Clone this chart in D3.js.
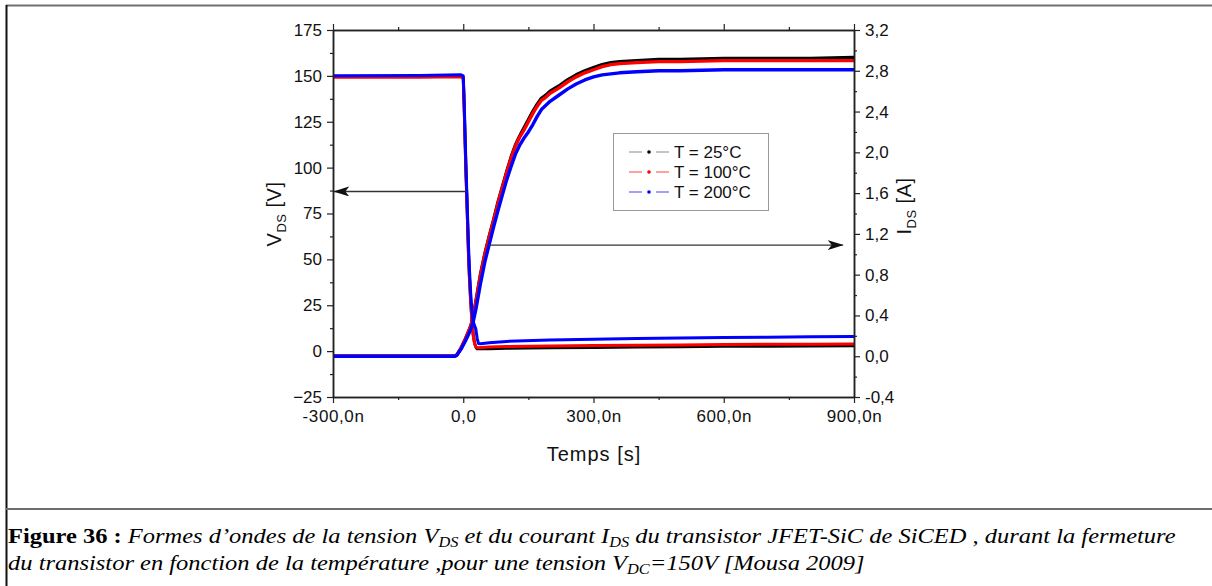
<!DOCTYPE html>
<html><head><meta charset="utf-8">
<script src="https://cdn.jsdelivr.net/npm/d3@7"></script>
<style>
html,body{margin:0;padding:0;background:#fff;}
svg{display:block;}
</style></head>
<body>
<svg id="c" width="1212" height="586"></svg>
<script>
// ---------- data ----------
const seriesNames = ["T = 25°C", "T = 100°C", "T = 200°C"];
const seriesColors = ["#000000", "#ff0000", "#0000ff"];
const legendLineColors = ["#b0b0b0", "#ff8080", "#8080ff"];

// V_DS (ns, V)
const vds25 = [[-300,149.6],[-100,149.6],[-5,149.8],[0,149],[2,135],[4,117],[6,100],[8,85],[10,70],[12,54],[14,42],[17,28],[20,17],[23,9],[26,4.5],[29,2.2],[32,1.3],[60,1.3],[100,1.5],[200,1.8],[300,2.0],[400,2.2],[500,2.4],[600,2.6],[700,2.7],[800,2.8],[900,2.9]];
const vds100 = [[-300,149.2],[-100,149.3],[-5,149.5],[0,148.5],[2,134],[4,116],[6,99],[8,84],[10,69],[12,53],[14,41],[17,27],[20,16],[23,8.5],[26,4.2],[29,2.4],[32,1.9],[60,2.2],[100,2.5],[200,2.8],[300,3.0],[400,3.2],[500,3.4],[600,3.6],[700,3.7],[800,3.8],[900,3.9]];
const vds200 = [[-300,150.1],[-100,150.2],[-5,150.6],[0,150],[2,137],[4,120],[6,103],[8,88],[10,73],[12,58],[14,46],[17,32],[20,22],[23,16],[26,14],[29,12],[32,7],[35,4.2],[40,4.0],[60,4.6],[100,5.3],[200,6.0],[300,6.5],[400,6.9],[500,7.2],[600,7.4],[700,7.6],[800,7.8],[900,8.0]];

// I_DS (ns, A)
const ids25 = [[-300,0],[-20,0],[-15,0.01],[-5,0.08],[5,0.17],[15,0.27],[22,0.36],[30,0.56],[40,0.81],[50,1.01],[60,1.18],[70,1.34],[80,1.51],[90,1.66],[100,1.81],[110,1.95],[120,2.07],[130,2.16],[140,2.24],[150,2.32],[160,2.4],[170,2.47],[180,2.53],[190,2.56],[200,2.6],[220,2.65],[240,2.71],[260,2.76],[280,2.8],[300,2.83],[320,2.86],[340,2.88],[360,2.89],[400,2.9],[450,2.91],[500,2.91],[600,2.92],[700,2.92],[800,2.92],[900,2.93]];
const ids100 = [[-300,0],[-20,0],[-15,0.01],[-5,0.08],[5,0.17],[15,0.27],[22,0.36],[30,0.55],[40,0.8],[50,1.0],[60,1.17],[70,1.33],[80,1.5],[90,1.65],[100,1.8],[110,1.94],[120,2.06],[130,2.15],[140,2.22],[150,2.3],[160,2.38],[170,2.45],[180,2.51],[190,2.54],[200,2.58],[220,2.63],[240,2.69],[260,2.74],[280,2.78],[300,2.81],[320,2.84],[340,2.86],[360,2.87],[400,2.88],[450,2.89],[500,2.89],[600,2.9],[700,2.9],[800,2.9],[900,2.9]];
const ids200 = [[-300,0],[-20,0],[-15,0.01],[-5,0.07],[5,0.15],[15,0.24],[22,0.32],[30,0.48],[40,0.72],[50,0.93],[60,1.1],[70,1.27],[80,1.43],[90,1.58],[100,1.73],[110,1.86],[120,1.98],[130,2.07],[140,2.14],[150,2.2],[160,2.27],[170,2.35],[180,2.42],[200,2.5],[220,2.56],[240,2.62],[260,2.67],[280,2.71],[300,2.74],[320,2.76],[340,2.77],[360,2.78],[400,2.79],[450,2.8],[500,2.8],[600,2.81],[700,2.81],[800,2.81],[900,2.81]];

const timeTicks = [-300, 0, 300, 600, 900];
const timeTickLabels = ["-300,0n", "0,0", "300,0n", "600,0n", "900,0n"];
const timeMinor = [-150, 150, 450, 750];
const vTicks = [-25, 0, 25, 50, 75, 100, 125, 150, 175];
const vMinor = [-12.5, 12.5, 37.5, 62.5, 87.5, 112.5, 137.5, 162.5];
const iTicks = [-0.4, 0.0, 0.4, 0.8, 1.2, 1.6, 2.0, 2.4, 2.8, 3.2];
const iTickLabels = ["-0,4", "0,0", "0,4", "0,8", "1,2", "1,6", "2,0", "2,4", "2,8", "3,2"];
const iMinor = [-0.2, 0.2, 0.6, 1.0, 1.4, 1.8, 2.2, 2.6, 3.0];

// annotation arrows: [value, tStart, tEnd]
const vArrow = [87, 8, -297];
const iArrow = [1.09, 59, 874];

// ---------- drawing ----------
const svg = d3.select("#c");
const SANS = "'Liberation Sans', Arial, sans-serif";
const SERIF = "'Liberation Serif', 'Times New Roman', serif";

// page frame
svg.append("line").attr("x1", 6).attr("x2", 1212).attr("y1", 5.5).attr("y2", 5.5).attr("stroke", "#6e6e6e").attr("stroke-width", 2);
svg.append("line").attr("x1", 6.5).attr("x2", 6.5).attr("y1", 5).attr("y2", 586).attr("stroke", "#111").attr("stroke-width", 2);
svg.append("line").attr("x1", 6).attr("x2", 1212).attr("y1", 509).attr("y2", 509).attr("stroke", "#6e6e6e").attr("stroke-width", 2);

const L = 333, R = 854, T = 30, B = 397;
const x = d3.scaleLinear().domain([-300, 900]).range([L, R]);
const yV = d3.scaleLinear().domain([-25, 175]).range([B, T]);
const yI = d3.scaleLinear().domain([-0.4, 3.2]).range([B, T]);

const plot = svg.append("g");
plot.append("clipPath").attr("id", "clip").append("rect").attr("x", L).attr("y", T).attr("width", R - L).attr("height", B - T);

const lineV = d3.line().x(d => x(d[0])).y(d => yV(d[1]));
const lineI = d3.line().x(d => x(d[0])).y(d => yI(d[1]));
const vSeries = [vds25, vds100, vds200];
const iSeries = [ids25, ids100, ids200];
const curves = plot.append("g").attr("clip-path", "url(#clip)");
for (let k = 0; k < 3; k++) {
  curves.append("path").attr("d", lineV(vSeries[k])).attr("fill", "none").attr("stroke", seriesColors[k]).attr("stroke-width", 3).attr("stroke-linejoin", "round");
  curves.append("path").attr("d", lineI(iSeries[k])).attr("fill", "none").attr("stroke", seriesColors[k]).attr("stroke-width", 3.4).attr("stroke-linejoin", "round");
}

// axes
function styleAxis(g) {
  g.selectAll("path.domain").attr("stroke", "#222").attr("stroke-width", 1.5);
  g.selectAll(".tick line").attr("stroke", "#222").attr("stroke-width", 1.2);
  g.selectAll("text").attr("font-family", SANS).attr("font-size", 17).attr("fill", "#111");
}
const ax = svg.append("g");
ax.append("g").attr("transform", `translate(0,${B})`)
  .call(d3.axisBottom(x).tickValues(timeTicks).tickFormat((d, i) => timeTickLabels[i]).tickSize(6).tickSizeOuter(0).tickPadding(7)).call(styleAxis)
  .call(g => g.selectAll("text").attr("letter-spacing", 0.6));
ax.append("g").attr("transform", `translate(0,${B})`)
  .call(d3.axisBottom(x).tickValues(timeMinor).tickFormat("").tickSize(3).tickSizeOuter(0)).call(styleAxis);
ax.append("g").attr("transform", `translate(0,${T})`)
  .call(d3.axisTop(x).tickValues(timeTicks).tickFormat("").tickSize(6).tickSizeOuter(0)).call(styleAxis);
ax.append("g").attr("transform", `translate(0,${T})`)
  .call(d3.axisTop(x).tickValues(timeMinor).tickFormat("").tickSize(3).tickSizeOuter(0)).call(styleAxis);
ax.append("g").attr("transform", `translate(${L},0)`)
  .call(d3.axisLeft(yV).tickValues(vTicks).tickFormat(d3.format("d")).tickSize(6).tickSizeOuter(0).tickPadding(5)).call(styleAxis);
ax.append("g").attr("transform", `translate(${L},0)`)
  .call(d3.axisLeft(yV).tickValues(vMinor).tickFormat("").tickSize(3).tickSizeOuter(0)).call(styleAxis);
ax.append("g").attr("transform", `translate(${R},0)`)
  .call(d3.axisRight(yI).tickValues(iTicks).tickFormat((d, i) => iTickLabels[i]).tickSize(6).tickSizeOuter(0).tickPadding(5)).call(styleAxis);
ax.append("g").attr("transform", `translate(${R},0)`)
  .call(d3.axisRight(yI).tickValues(iMinor).tickFormat("").tickSize(3).tickSizeOuter(0)).call(styleAxis);

// axis titles
const tV = svg.append("text").attr("transform", "translate(281,214) rotate(-90)").attr("text-anchor", "middle")
  .attr("font-family", SANS).attr("font-size", 20).attr("letter-spacing", 0.5).attr("fill", "#111");
tV.append("tspan").text("V");
tV.append("tspan").attr("font-size", 13).attr("dy", 5).text("DS");
tV.append("tspan").attr("dy", -5).text(" [V]");

const tI = svg.append("text").attr("transform", "translate(911,206) rotate(-90)").attr("text-anchor", "middle")
  .attr("font-family", SANS).attr("font-size", 20).attr("letter-spacing", 0.5).attr("fill", "#111");
tI.append("tspan").text("I");
tI.append("tspan").attr("font-size", 13).attr("dy", 5).text("DS");
tI.append("tspan").attr("dy", -5).text(" [A]");

svg.append("text").attr("x", 594).attr("y", 461).attr("text-anchor", "middle")
  .attr("font-family", SANS).attr("font-size", 20).attr("letter-spacing", 1).attr("fill", "#111").text("Temps [s]");

// arrows
const defs = svg.append("defs");
defs.append("marker").attr("id", "arr").attr("viewBox", "0 0 16 10").attr("refX", 15).attr("refY", 5)
  .attr("markerWidth", 16).attr("markerHeight", 10).attr("markerUnits", "userSpaceOnUse").attr("orient", "auto")
  .append("path").attr("d", "M0,0 L16,5 L0,10 L4,5 Z").attr("fill", "#111");
svg.append("line").attr("x1", x(vArrow[1])).attr("x2", x(vArrow[2])).attr("y1", yV(vArrow[0])).attr("y2", yV(vArrow[0]))
  .attr("stroke", "#333").attr("stroke-width", 1.3).attr("marker-end", "url(#arr)");
svg.append("line").attr("x1", x(iArrow[1])).attr("x2", x(iArrow[2])).attr("y1", yI(iArrow[0])).attr("y2", yI(iArrow[0]))
  .attr("stroke", "#333").attr("stroke-width", 1.3).attr("marker-end", "url(#arr)");

// legend
const lg = svg.append("g");
lg.append("rect").attr("x", 613.5).attr("y", 133.5).attr("width", 155).attr("height", 77).attr("fill", "#fff").attr("stroke", "#999").attr("stroke-width", 1);
seriesNames.forEach((name, k) => {
  const cy = 152 + k * 20;
  lg.append("line").attr("x1", 629).attr("x2", 642).attr("y1", cy).attr("y2", cy).attr("stroke", legendLineColors[k]).attr("stroke-width", 1.5);
  lg.append("line").attr("x1", 656).attr("x2", 669).attr("y1", cy).attr("y2", cy).attr("stroke", legendLineColors[k]).attr("stroke-width", 1.5);
  lg.append("circle").attr("cx", 649).attr("cy", cy).attr("r", 1.8).attr("fill", seriesColors[k]);
  lg.append("text").attr("x", 674).attr("y", cy + 6).attr("font-family", SANS).attr("font-size", 17).attr("fill", "#111").text(name);
});

// caption
function caption(y, parts, targetWidth) {
  const t = svg.append("text").attr("x", 0).attr("y", 0).attr("font-family", SERIF).attr("font-size", 21).attr("fill", "#000");
  parts.forEach(p => {
    const s = t.append("tspan").text(p.t);
    if (p.b) s.attr("font-weight", "bold").attr("font-style", "normal");
    else s.attr("font-style", "italic");
    if (p.sub) s.attr("font-size", 14).attr("dy", 4);
    if (p.after) s.attr("dy", -4);
  });
  const w = t.node().getComputedTextLength();
  const sx = targetWidth / w;
  t.attr("transform", `translate(8,${y}) scale(${sx},1)`);
}
caption(543, [
  {t: "Figure 36 : ", b: true},
  {t: "Formes d’ondes de la tension V"},
  {t: "DS", sub: true},
  {t: " et du courant I", after: true},
  {t: "DS", sub: true},
  {t: " du transistor JFET-SiC de SiCED , durant la fermeture", after: true}
], 1168);
caption(570, [
  {t: "du transistor en fonction de la température ,pour une tension V"},
  {t: "DC", sub: true},
  {t: "=150V [Mousa 2009]", after: true}
], 857);
</script>
</body></html>
